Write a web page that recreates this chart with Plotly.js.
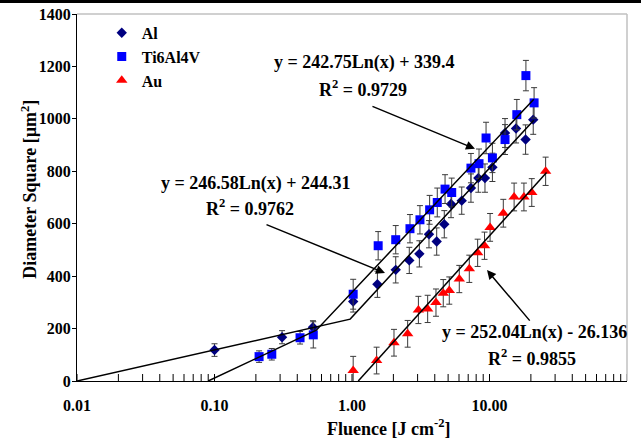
<!DOCTYPE html>
<html>
<head>
<meta charset="utf-8">
<script src="https://cdn.plot.ly/plotly-3.0.1.min.js"></script>
<style>html,body{margin:0;padding:0;background:#fff;}#chart{width:641px;height:442px;}</style>
</head>
<body>
<div id="chart"></div>
<script>
// ---- data ----
const alX = [0.10, 0.31, 0.52, 1.02, 1.53, 2.08, 2.61, 3.09, 3.63, 4.13, 4.69, 5.25, 6.28, 7.33, 8.29, 9.27, 10.5, 12.97, 15.6, 18.3, 20.8];
const alY = [118, 167, 205, 303, 369, 424, 460, 485, 560, 532, 598, 675, 688, 736, 774, 774, 815, 946, 963, 921, 997];
const alErr = [24, 25, 25, 40, 50, 50, 50, 50, 52, 52, 52, 52, 52, 54, 54, 54, 54, 55, 55, 56, 56];

const tiX = [0.211, 0.261, 0.419, 0.523, 1.02, 1.55, 2.08, 2.64, 3.12, 3.67, 4.17, 4.75, 5.31, 7.33, 8.39, 9.44, 10.5, 12.97, 15.8, 18.4, 21.1];
const tiY = [93, 102, 165, 176, 331, 516, 539, 581, 615, 653, 681, 732, 719, 812, 829, 927, 851, 921, 1016, 1165, 1061];
const tiErr = [22, 22, 24, 50, 57, 54, 54, 54, 54, 55, 55, 55, 55, 56, 56, 60, 56, 57, 58, 58, 58];

const auX = [1.02, 1.51, 2.02, 2.54, 3.04, 3.55, 4.08, 4.61, 5.10, 6.03, 7.13, 8.2, 9.2, 10.1, 12.6, 15.1, 17.8, 20.3, 25.6];
const auY = [40, 78, 146, 180, 271, 275, 299, 335, 345, 389, 428, 489, 516, 586, 640, 702, 702, 719, 800];
const auErr = [54, 51, 51, 51, 52, 52, 52, 52, 52, 52, 52, 52, 52, 53, 53, 53, 53, 53, 54];

// trend-line vertices
const alLineX = [0.01, 0.97, 21];
const alLineY = [0, 236, 995];
const tiLineX = [0.09, 0.55, 21];
const tiLineY = [0, 194, 1075];
const auLineX = [1.11, 26];
const auLineY = [0, 795];

const seriesNames = ["Al", "Ti6Al4V", "Au"];
const eqTexts = ["y = 242.75Ln(x) + 339.4", "y = 246.58Ln(x) + 244.31", "y = 252.04Ln(x) - 26.136"];
const r2Texts = ["R<sup>2</sup> = 0.9729", "R<sup>2</sup> = 0.9762", "R<sup>2</sup> = 0.9855"];
const xDecades = [0.01, 0.1, 1, 10, 100];
const xDecadeLabels = ["0.01", "0.10", "1.00", "10.00", "100.00"];
const yTitle = 'Diameter Square [µm<sup>2</sup>]';
const xTitle = 'Fluence [J cm<sup>-2</sup>]';

// log tick positions: decades plus 2..9 between them (drawn as short upward marks)
const xTickVals = [];
xDecades.forEach((d, i) => {
  xTickVals.push(d);
  if (i < xDecades.length - 1) for (let k = 2; k <= 9; k++) xTickVals.push(d * k);
});

const FONT = "Liberation Serif, Times New Roman, serif";
const errStyle = {type: 'data', thickness: 1, width: 3, color: '#3a3a3a'};

const traces = [
  {x: alX, y: alY, name: seriesNames[0], type: 'scatter', mode: 'markers',
   marker: {symbol: 'diamond', size: 8, color: '#000080'},
   error_y: Object.assign({array: alErr}, errStyle)},
  {x: tiX, y: tiY, name: seriesNames[1], type: 'scatter', mode: 'markers',
   marker: {symbol: 'square', size: 9, color: '#0000FF'},
   error_y: Object.assign({array: tiErr}, errStyle)},
  {x: auX, y: auY, name: seriesNames[2], type: 'scatter', mode: 'markers',
   marker: {symbol: 'triangle-up', size: 10, color: '#FF0000'},
   error_y: Object.assign({array: auErr}, errStyle)},
  {x: alLineX, y: alLineY, type: 'scatter', mode: 'lines', showlegend: false, hoverinfo: 'skip',
   line: {color: '#000', width: 1.5}},
  {x: tiLineX, y: tiLineY, type: 'scatter', mode: 'lines', showlegend: false, hoverinfo: 'skip',
   line: {color: '#000', width: 1.5}},
  {x: auLineX, y: auLineY, type: 'scatter', mode: 'lines', showlegend: false, hoverinfo: 'skip',
   line: {color: '#000', width: 1.5}},
  // axis tick marks on the x axis line (lower half clipped by the plot area)
  {x: xTickVals, y: xTickVals.map(() => 0), type: 'scatter', mode: 'markers', showlegend: false,
   hoverinfo: 'skip', cliponaxis: true,
   marker: {symbol: 'line-ns-open', size: 10, color: '#000', line: {width: 1, color: '#000'}}}
];

function txt(t, x, y) {
  return {text: t, xref: 'paper', yref: 'paper', x: x, y: y, showarrow: false,
          xanchor: 'center', yanchor: 'middle',
          font: {family: FONT, size: 18, color: '#000', weight: 'bold'}};
}
// arrow head at a data point (log axis -> annotation x is log10), tail offset in px
function arrow(x, y, ax, ay) {
  return {text: '', x: Math.log10(x), y: y, xref: 'x', yref: 'y', showarrow: true,
          ax: ax, ay: ay, arrowhead: 2, arrowsize: 1.2, arrowwidth: 1.5, arrowcolor: '#000'};
}

const layout = {
  width: 641, height: 442,
  margin: {l: 77, r: 14, t: 14, b: 61},
  paper_bgcolor: '#fff', plot_bgcolor: '#fff',
  font: {family: FONT, size: 16, color: '#000', weight: 'bold'},
  showlegend: true,
  legend: {x: 0.045, y: 0.995, xanchor: 'left', yanchor: 'top', bgcolor: 'rgba(0,0,0,0)',
           font: {family: FONT, size: 16, weight: 'bold'}, itemwidth: 30, tracegroupgap: 0},
  xaxis: {type: 'log', range: [-2, 2], tickmode: 'array', tickvals: xDecades, ticktext: xDecadeLabels,
          ticks: '', showgrid: false, zeroline: false,
          showline: true, linecolor: '#000', linewidth: 1, ticklabelstandoff: 10,
          tickfont: {family: FONT, size: 16, weight: 'bold'}},
  yaxis: {range: [0, 1400], dtick: 200, ticks: 'outside', ticklen: 4, tickcolor: '#000',
          showgrid: false, zeroline: false, showline: true, linecolor: '#000', linewidth: 1,
          ticklabelstandoff: -2,
          tickfont: {family: FONT, size: 16, weight: 'bold'}},
  shapes: [
    {type: 'line', xref: 'paper', yref: 'paper', x0: 0, x1: 1, y0: 1, y1: 1, line: {color: '#c0c0c0', width: 1.5}},
    {type: 'line', xref: 'paper', yref: 'paper', x0: 1, x1: 1, y0: 0, y1: 1, line: {color: '#c0c0c0', width: 1.5}},
    {type: 'rect', xref: 'paper', yref: 'paper', x0: -0.15, x1: 1.05, y0: 1.0300, y1: 1.045, fillcolor: '#000', line: {width: 0}}
  ],
  annotations: [
    txt(eqTexts[0], 0.5236, 0.869), txt(r2Texts[0], 0.52, 0.798),
    txt(eqTexts[1], 0.3255, 0.5395), txt(r2Texts[1], 0.3145, 0.4714),
    txt(eqTexts[2], 0.8327, 0.1308), txt(r2Texts[2], 0.8273, 0.0627),
    arrow(7.84, 886, -104, -43),
    arrow(1.738, 412, -120, -49),
    arrow(9.59, 423, 44, 52),
    {text: xTitle, xref: 'paper', yref: 'paper', x: 0.5655, y: -0.128,
     showarrow: false, xanchor: 'center', yanchor: 'middle',
     font: {family: FONT, size: 18, color: '#000', weight: 'bold'}},
    {text: yTitle, xref: 'paper', yref: 'paper', x: -0.088, y: 0.523, textangle: -90,
     showarrow: false, xanchor: 'center', yanchor: 'middle',
     font: {family: FONT, size: 18, color: '#000', weight: 'bold'}}
  ]
};

Plotly.newPlot('chart', traces, layout, {staticPlot: true, displayModeBar: false});
</script>
</body>
</html>
